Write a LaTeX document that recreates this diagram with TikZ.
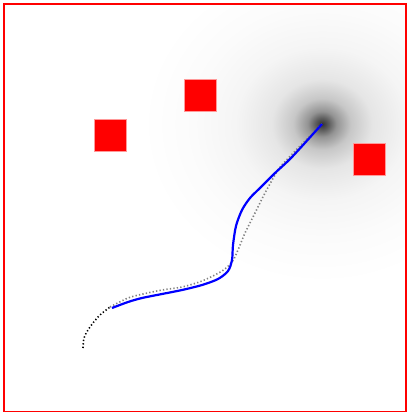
\documentclass[tikz,border=0pt]{standalone}
\pgfdeclareradialshading{glow}{\pgfpoint{0bp}{0bp}}{%
color(0bp)=(black!80);
color(1bp)=(black!62);
color(2bp)=(black!42);
color(4bp)=(black!22);
color(7bp)=(black!10);
color(12bp)=(black!4);
color(18bp)=(black!1.5);
color(25bp)=(white);
color(50bp)=(white)}
\tikzset{
  obst/.style={fill=red, draw=red!40, line width=0.4pt, minimum size=32pt, inner sep=0pt, outer sep=0pt},
  frame/.style={draw=red, line width=1.6pt},
  route/.style={blue, line width=2.2pt, line join=round},
  ref/.style={gray, line width=1.6pt, dash pattern=on 1.3pt off 2.2pt},
  refstart/.style={black, line width=1.6pt, dash pattern=on 1.3pt off 2.2pt},
}
\begin{document}
\begin{tikzpicture}[x=1pt,y=-1pt]
\useasboundingbox (0,0) rectangle (409,418);
\fill[white] (0,0) rectangle (409,418);
\begin{scope}
\clip (4,4) rectangle (406,411.5);
\shade[shading=glow] (322,124) ellipse [x radius=180, y radius=160];
\end{scope}
\coordinate (goal) at (322,124);
\coordinate (start) at (83,348);
\node[obst] (o1) at (110,135) {};
\node[obst] (o2) at (200,95) {};
\node[obst] (o3) at (369.5,159) {};
\draw[refstart] plot[smooth] coordinates {(83,348) (84,338) (88,330) (93,323) (100,315) (110,307)};
\draw[ref] plot[smooth] coordinates {(110,307) (128,298) (143,294) (162,290) (182,287) (202,281) (222,271) (232,262) (238,250) (245,233) (255,213) (265,193) (275,175) (281,166) (300,146) (322,124)};
\draw[route] plot[smooth, tension=0.5] coordinates {(112,308) (128,302) (142,298) (162,294) (182,290) (202,285) (218,279) (228,271) (232,260) (233,245) (236,226) (242,210) (250,198) (260,188) (275,173) (292,157) (322,124)};
\draw[frame] (4,4) rectangle (406,411.5);
\end{tikzpicture}
\end{document}
